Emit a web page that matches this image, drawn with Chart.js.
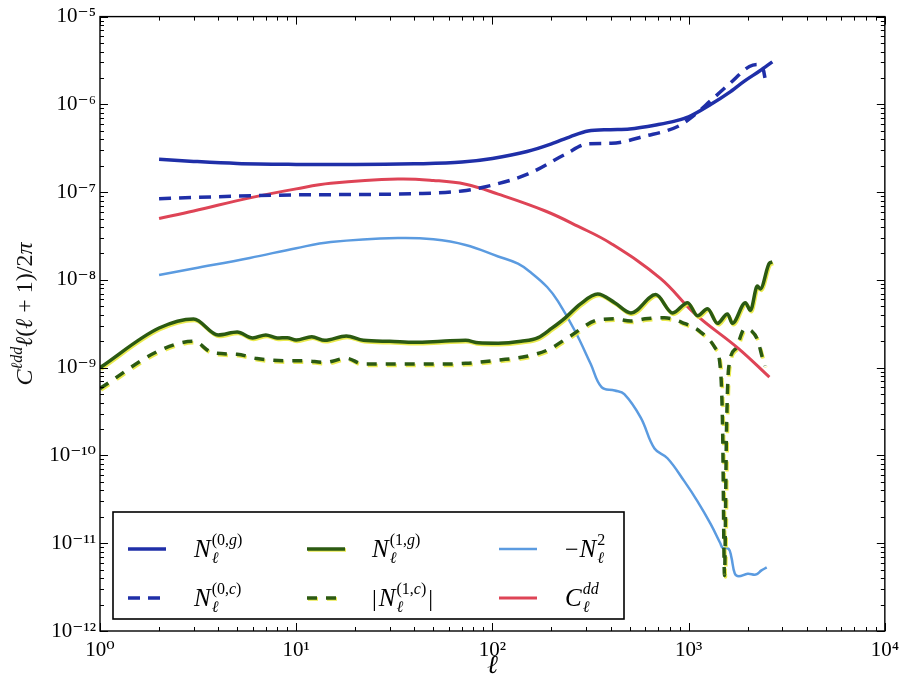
<!DOCTYPE html>
<html>
<head>
<meta charset="utf-8">
<script src="https://cdn.jsdelivr.net/npm/chart.js@4.4.1/dist/chart.umd.min.js"></script>
<style>
  html, body { margin: 0; padding: 0; background: #fff; }
  #wrap { width: 906px; height: 682px; }
</style>
</head>
<body>
<div id="wrap"><canvas id="lensing-noise" width="906" height="682"></canvas></div>
<script>
// multipoles and values (log-log)
const ellN0g = [2, 3, 5, 10, 20, 40, 70, 100, 150, 200, 250, 307, 400, 500, 700, 850, 1000, 1300, 1600, 1924, 2300, 2670];
const N0g = [2.37e-7, 2.24e-7, 2.12e-7, 2.07e-7, 2.06e-7, 2.1e-7, 2.2e-7, 2.42e-7, 2.9e-7, 3.55e-7, 4.3e-7, 4.97e-7, 5.15e-7, 5.25e-7, 5.9e-7, 6.45e-7, 7.2e-7, 1.0e-6, 1.35e-6, 1.84e-6, 2.4e-6, 3.05e-6];

const ellN0c = [2, 3, 5, 10, 20, 40, 70, 95, 152, 235, 307, 404, 600, 880, 1050, 1294, 1630, 2040, 2250, 2400, 2450];
const N0c = [8.4e-8, 8.7e-8, 9.0e-8, 9.3e-8, 9.4e-8, 9.6e-8, 1.03e-7, 1.17e-7, 1.61e-7, 2.7e-7, 3.55e-7, 3.6e-7, 4.35e-7, 5.6e-7, 7.3e-7, 1.1e-6, 1.75e-6, 2.7e-6, 2.85e-6, 2.5e-6, 2.0e-6];

const ellN1g = [1, 2, 3, 4, 5, 6, 7, 8, 9, 10, 12, 14, 18, 22, 30, 40, 55, 73, 85, 107, 140, 171, 200, 235, 280, 344, 420, 508, 680, 829, 988, 1111, 1248, 1403, 1577, 1672, 1947, 2064, 2240, 2320, 2580, 2670];
const N1g = [1.0e-9, 2.83e-9, 3.59e-9, 2.36e-9, 2.55e-9, 2.18e-9, 2.36e-9, 2.18e-9, 2.2e-9, 2.07e-9, 2.25e-9, 2.05e-9, 2.3e-9, 2.05e-9, 2.0e-9, 1.95e-9, 2.0e-9, 2.05e-9, 1.92e-9, 1.9e-9, 2.0e-9, 2.2e-9, 2.8e-9, 3.7e-9, 5.3e-9, 6.9e-9, 5.5e-9, 4.2e-9, 6.8e-9, 4.2e-9, 5.5e-9, 3.9e-9, 4.7e-9, 3.2e-9, 4.1e-9, 3.2e-9, 5.5e-9, 4.5e-9, 8.5e-9, 7.9e-9, 1.55e-8, 1.6e-8];

const ellN1c = [1, 2, 3, 3.75, 5, 6.3, 9, 11, 14, 18, 22, 30, 40, 55, 73, 107, 150, 192, 250, 344, 420, 508, 600, 753, 950, 1140, 1360, 1450, 1490, 1523, 1560, 1600, 1740, 1925, 2100, 2240, 2400, 2450];
const N1c = [5.8e-10, 1.56e-9, 2.0e-9, 1.48e-9, 1.42e-9, 1.27e-9, 1.2e-9, 1.2e-9, 1.15e-9, 1.28e-9, 1.1e-9, 1.1e-9, 1.1e-9, 1.1e-9, 1.12e-9, 1.22e-9, 1.35e-9, 1.6e-9, 2.3e-9, 3.5e-9, 3.6e-9, 3.4e-9, 3.6e-9, 3.7e-9, 3.2e-9, 2.6e-9, 1.7e-9, 1.0e-9, 2.0e-10, 4.3e-12, 2.0e-10, 1.0e-9, 1.65e-9, 2.75e-9, 2.6e-9, 2.1e-9, 1.2e-9, 1.05e-9];

const ellN2 = [2, 3, 5.8, 10, 15, 33, 50, 73, 107, 135, 158, 190, 216, 264, 317, 360, 420, 470, 570, 670, 780, 950, 1110, 1294, 1450, 1490, 1600, 1650, 1720, 1800, 2000, 2200, 2350, 2500];
const N2 = [1.14e-8, 1.35e-8, 1.78e-8, 2.3e-8, 2.7e-8, 3.0e-8, 2.9e-8, 2.5e-8, 1.85e-8, 1.53e-8, 1.2e-8, 8.3e-9, 5.7e-9, 2.6e-9, 1.1e-9, 6.0e-10, 5.5e-10, 5.0e-10, 2.7e-10, 1.2e-10, 9.3e-11, 5.1e-11, 3.0e-11, 1.66e-11, 1.0e-11, 8.9e-12, 8.6e-12, 7.0e-12, 4.5e-12, 4.2e-12, 4.5e-12, 4.4e-12, 4.9e-12, 5.3e-12];

const ellCdd = [2, 3, 5.8, 10, 15, 33, 50, 73, 107, 186, 272, 402, 718, 1078, 1790, 2580];
const Cdd = [5.0e-8, 6.1e-8, 8.6e-8, 1.09e-7, 1.26e-7, 1.41e-7, 1.36e-7, 1.23e-7, 9.5e-8, 6.1e-8, 4.1e-8, 2.6e-8, 1.04e-8, 4.1e-9, 1.66e-9, 7.8e-10];

const xDecades = [0, 1, 2, 3, 4];
const yDecades = [-12, -11, -10, -9, -8, -7, -6, -5];

const SERIF = "'Liberation Serif', 'DejaVu Serif', serif";
const SUP = { '-': '\u207B', '0': '\u2070', '1': '\u00B9', '2': '\u00B2', '3': '\u00B3', '4': '\u2074', '5': '\u2075', '6': '\u2076', '7': '\u2077', '8': '\u2078', '9': '\u2079' };

function logTicks(decades) {
    const out = [];
    decades.forEach((d, i) => {
        if (i === decades.length - 1) { out.push(Math.pow(10, d)); return; }
        for (let m = 1; m < 10; m++) out.push(m * Math.pow(10, d));
    });
    return out;
}
function isDecade(v) {
    const l = Math.log10(v);
    return Math.abs(l - Math.round(l)) < 1e-6;
}
function decadeLabel(v) {
    if (!isDecade(v)) return '';
    return '10' + String(Math.round(Math.log10(v))).split('').map(c => SUP[c]).join('');
}
function pts(xs, ys) { return xs.map((x, i) => ({ x: x, y: ys[i] })); }

const BLUE = '#1f2fa8', GREEN = '#2b5a12', LIGHT = '#5b9be0', RED = '#de4456';

// legend entries: label pieces (prefix, base letter, subscript, superscript, suffix)
const legendItems = [
    { ds: 0, col: 0, row: 0, pre: '', base: 'N', sub: 'ℓ', sup: [['(0,', false], ['g', true], [')', false]], post: '' },
    { ds: 1, col: 0, row: 1, pre: '', base: 'N', sub: 'ℓ', sup: [['(0,', false], ['c', true], [')', false]], post: '' },
    { ds: 2, col: 1, row: 0, pre: '', base: 'N', sub: 'ℓ', sup: [['(1,', false], ['g', true], [')', false]], post: '' },
    { ds: 3, col: 1, row: 1, pre: '|', base: 'N', sub: 'ℓ', sup: [['(1,', false], ['c', true], [')', false]], post: '|' },
    { ds: 4, col: 2, row: 0, pre: '\u2212', base: 'N', sub: 'ℓ', sup: [['2', false]], post: '' },
    { ds: 5, col: 2, row: 1, pre: '', base: 'C', sub: 'ℓ', sup: [['dd', true]], post: '' }
];

function font(size, italic) { return (italic ? 'italic ' : '') + size + 'px ' + SERIF; }

function drawLabel(ctx, it, x, base) {
    ctx.textAlign = 'left';
    ctx.textBaseline = 'alphabetic';
    if (it.pre) {
        ctx.font = font(24, false);
        ctx.fillText(it.pre, x, base);
        x += ctx.measureText(it.pre).width + (it.pre === '|' ? 2 : 1);
    }
    ctx.font = font(25, true);
    ctx.fillText(it.base, x, base);
    x += ctx.measureText(it.base).width + 1;
    ctx.font = font(16, true);
    ctx.fillText(it.sub, x, base + 6);
    const subW = ctx.measureText(it.sub).width;
    let sx = x;
    it.sup.forEach(([t, ital]) => {
        ctx.font = font(16, ital);
        ctx.fillText(t, sx, base - 12);
        sx += ctx.measureText(t).width;
    });
    x = Math.max(x + subW, sx) + 2;
    if (it.post) {
        ctx.font = font(24, false);
        ctx.fillText(it.post, x, base);
    }
}

const framePlugin = {
    id: 'frame',
    beforeDatasetDraw(chart, args) {
        const ds = chart.data.datasets[args.index];
        chart.ctx.save();
        if (ds.halo) {
            chart.ctx.shadowColor = 'rgba(232,232,60,0.9)';
            chart.ctx.shadowOffsetX = 1;
            chart.ctx.shadowOffsetY = 1.5;
            chart.ctx.shadowBlur = 0;
        }
    },
    afterDatasetDraw(chart) { chart.ctx.restore(); },
    afterDraw(chart) {
        const ctx = chart.ctx, a = chart.chartArea;
        const sx = chart.scales.x, sy = chart.scales.y;
        ctx.save();
        ctx.strokeStyle = '#000';
        ctx.lineWidth = 1;
        // inward ticks on all four sides
        sx.ticks.forEach(t => {
            const p = Math.round(sx.getPixelForValue(t.value)) + 0.5;
            const len = isDecade(t.value) ? 8 : 4;
            ctx.beginPath();
            ctx.moveTo(p, a.bottom); ctx.lineTo(p, a.bottom - len);
            ctx.moveTo(p, a.top); ctx.lineTo(p, a.top + len);
            ctx.stroke();
        });
        sy.ticks.forEach(t => {
            const p = Math.round(sy.getPixelForValue(t.value)) + 0.5;
            const len = isDecade(t.value) ? 8 : 4;
            ctx.beginPath();
            ctx.moveTo(a.left, p); ctx.lineTo(a.left + len, p);
            ctx.moveTo(a.right, p); ctx.lineTo(a.right - len, p);
            ctx.stroke();
        });
        ctx.lineWidth = 1.4;
        ctx.strokeRect(a.left, a.top, a.right - a.left, a.bottom - a.top);

        // legend box
        const bx = 113, by = 512, bw = 511, bh = 107;
        ctx.fillStyle = '#fff';
        ctx.fillRect(bx, by, bw, bh);
        ctx.lineWidth = 1.6;
        ctx.strokeRect(bx, by, bw, bh);
        const lineX = [128, 307, 499], textX = [194, 372, 565], rowY = [549, 598];
        legendItems.forEach(it => {
            const ds = chart.data.datasets[it.ds];
            const y = rowY[it.row];
            ctx.save();
            if (ds.halo) {
                ctx.shadowColor = 'rgba(232,232,60,0.9)';
                ctx.shadowOffsetX = 1; ctx.shadowOffsetY = 1;
            }
            ctx.strokeStyle = ds.borderColor;
            ctx.lineWidth = ds.borderWidth;
            ctx.setLineDash(ds.borderDash || []);
            ctx.beginPath();
            ctx.moveTo(lineX[it.col], y);
            ctx.lineTo(lineX[it.col] + 38, y);
            ctx.stroke();
            ctx.restore();
            ctx.fillStyle = '#000';
            drawLabel(ctx, it, textX[it.col], y + 8);
        });

        // y axis title  C^{ℓdd} ℓ(ℓ+1)/2π
        const runs = [['C', 24, true, 0], ['ℓdd', 16, true, -10], ['ℓ', 24, true, 0], ['(', 24, false, 0],
                      ['ℓ', 24, true, 0], [' + 1)/2', 24, false, 0], ['π', 24, true, 0]];
        let w = 0;
        runs.forEach(r => { ctx.font = font(r[1], r[2]); w += ctx.measureText(r[0]).width; });
        ctx.translate(24, 314);
        ctx.rotate(-Math.PI / 2);
        ctx.fillStyle = '#111';
        ctx.textAlign = 'left';
        ctx.textBaseline = 'alphabetic';
        let x = -w / 2;
        runs.forEach(r => {
            ctx.font = font(r[1], r[2]);
            ctx.fillText(r[0], x, 8 + r[3]);
            x += ctx.measureText(r[0]).width;
        });
        ctx.restore();
    }
};

Chart.defaults.color = '#000';
Chart.defaults.font.family = SERIF;

const smooth = { cubicInterpolationMode: 'default', tension: 0.4 };

new Chart(document.getElementById('lensing-noise'), {
    type: 'line',
    data: {
        datasets: [
            { label: 'N0g', data: pts(ellN0g, N0g), borderColor: BLUE, borderWidth: 3.5 },
            { label: 'N0c', data: pts(ellN0c, N0c), borderColor: BLUE, borderWidth: 3.5, borderDash: [12, 8] },
            { label: 'N1g', data: pts(ellN1g, N1g), borderColor: GREEN, borderWidth: 3.5, halo: true },
            { label: '|N1c|', data: pts(ellN1c, N1c), borderColor: GREEN, borderWidth: 3.5, borderDash: [10, 9], halo: true },
            Object.assign({ label: '-N2', data: pts(ellN2, N2), borderColor: LIGHT, borderWidth: 2.5 }, smooth),
            Object.assign({ label: 'Cdd', data: pts(ellCdd, Cdd), borderColor: RED, borderWidth: 3 }, smooth)
        ]
    },
    options: {
        responsive: false,
        animation: false,
        elements: { point: { radius: 0 }, line: { cubicInterpolationMode: 'monotone', borderCapStyle: 'butt' } },
        layout: { padding: { top: 15, right: 18, bottom: 0, left: 0 } },
        plugins: { legend: { display: false }, tooltip: { enabled: false } },
        scales: {
            x: {
                type: 'logarithmic', min: 1, max: 1e4,
                grid: { display: false, drawTicks: false },
                border: { display: false },
                afterBuildTicks: s => { s.ticks = logTicks(xDecades).map(v => ({ value: v })); },
                afterFit: s => { s.height = 51; },
                ticks: { autoSkip: false, maxRotation: 0, padding: 7, font: { size: 21, family: SERIF }, callback: v => decadeLabel(v) },
                title: { display: true, text: 'ℓ', font: { size: 26, style: 'italic', family: SERIF }, padding: { top: 0, bottom: 0 } }
            },
            y: {
                type: 'logarithmic', min: 1e-12, max: 1e-5,
                grid: { display: false, drawTicks: false },
                border: { display: false },
                afterBuildTicks: s => { s.ticks = logTicks(yDecades).map(v => ({ value: v })); },
                afterFit: s => { s.width = 100; },
                ticks: { autoSkip: false, padding: 4, font: { size: 21, family: SERIF }, callback: v => decadeLabel(v) }
            }
        }
    },
    plugins: [framePlugin]
});
</script>
</body>
</html>
